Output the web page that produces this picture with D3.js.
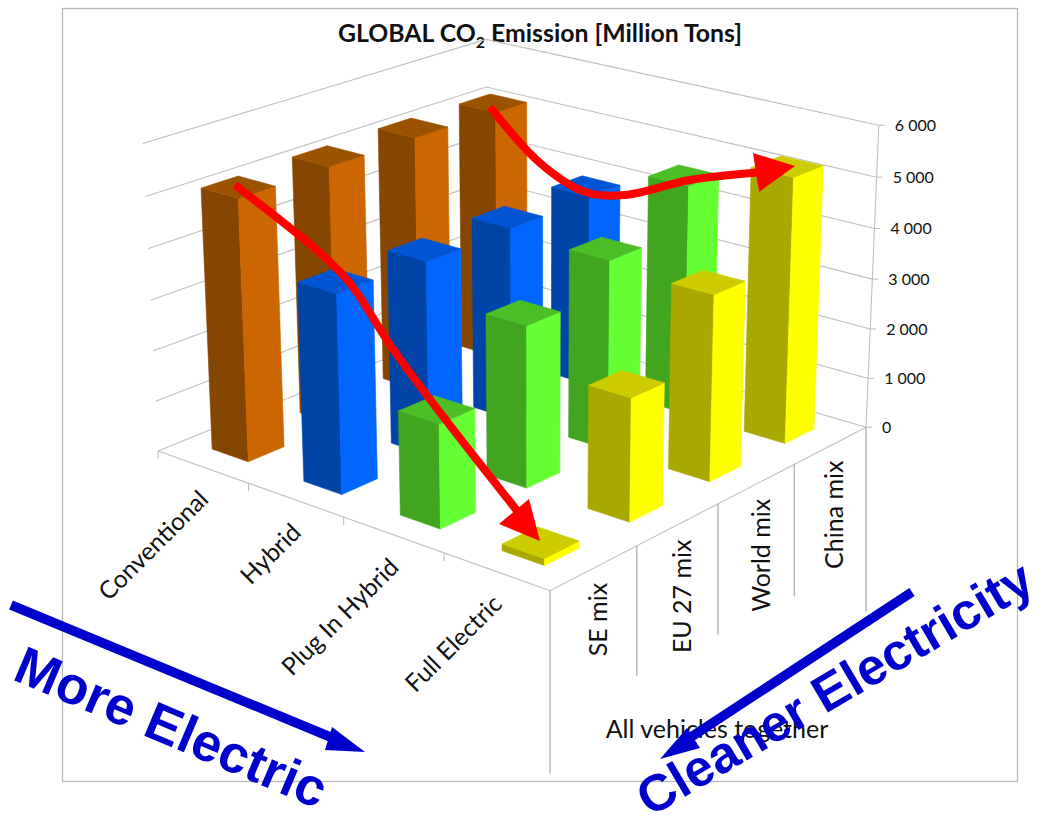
<!DOCTYPE html>
<html>
<head>
<meta charset="utf-8">
<script src="https://cdn.jsdelivr.net/npm/d3@7"></script>
<style>
  html, body { margin: 0; padding: 0; background: #fff; }
  svg { display: block; }
  text { font-family: Lato, "Open Sans", sans-serif; fill: #111; }
</style>
</head>
<body>
<svg id="chart" width="1042" height="827"></svg>
<script>
const vehicles = ["Conventional", "Hybrid", "Plug In Hybrid", "Full Electric"];
const mixes = ["SE mix", "EU 27 mix", "World mix", "China mix"];
const conventional = [5130, 5160, 5170, 5140];
const hybrid = [3860, 3830, 3860, 3900];
const plugIn = [2000, 3150, 3750, 4600];
const fullElectric = [130, 2370, 3630, 5250];
const valueTicks = [0, 1000, 2000, 3000, 4000, 5000, 6000];

const seriesByVehicle = [conventional, hybrid, plugIn, fullElectric];
const faceColors = [
  { left: "#844600", right: "#CC6600", top: "#9C5300" },
  { left: "#0044A8", right: "#0066FF", top: "#0055D4" },
  { left: "#42A51F", right: "#66FF33", top: "#4DBF26" },
  { left: "#A8A800", right: "#FFFF00", top: "#CCCC00" }
];

// Scales work in unit-cube coordinates; the camera below takes them to the screen.
const aScale = d3.scaleBand(vehicles, [0, 1]).paddingInner(0.6).paddingOuter(0.3);
const bScale = d3.scaleBand(mixes, [0, 1]).paddingInner(0.6).paddingOuter(0.3);
const hScale = d3.scaleLinear([0, 6000], [0, 1]);

// Camera calibration: cube corners paired with where they land on the page.
const cameraAnchors = [
  [0, 0, 0, 157, 452], [1, 0, 0, 550, 590], [1, 1, 0, 865, 428], [0, 1, 0, 490, 316],
  [0, 0, 1, 144, 143], [0, 1, 1, 484, 40], [1, 1, 1, 880, 125]
];

function solveCamera(anchors) {
  const rows = [], rhs = [];
  for (const [a, b, h, x, y] of anchors) {
    const u = x / 1000, v = y / 1000;
    rows.push([a, b, h, 1, 0, 0, 0, 0, -u * a, -u * b, -u * h]); rhs.push(u);
    rows.push([0, 0, 0, 0, a, b, h, 1, -v * a, -v * b, -v * h]); rhs.push(v);
  }
  const n = 11;
  const M = d3.range(n).map(i => d3.range(n + 1).map(j =>
    d3.sum(rows, (r, k) => r[i] * (j < n ? r[j] : rhs[k]))));
  for (let c = 0; c < n; c++) {
    const p = d3.greatest(d3.range(c, n), i => Math.abs(M[i][c]));
    [M[c], M[p]] = [M[p], M[c]];
    for (let i = 0; i < n; i++) {
      if (i === c) continue;
      const f = M[i][c] / M[c][c];
      for (let j = c; j <= n; j++) M[i][j] -= f * M[c][j];
    }
  }
  return d3.range(n).map(i => M[i][n] / M[i][i]);
}

const cam = solveCamera(cameraAnchors);
function project(a, b, h) {
  const w = cam[8] * a + cam[9] * b + cam[10] * h + 1;
  return [
    1000 * (cam[0] * a + cam[1] * b + cam[2] * h + cam[3]) / w,
    1000 * (cam[4] * a + cam[5] * b + cam[6] * h + cam[7]) / w
  ];
}

const svg = d3.select("#chart");
const gridColor = "#c0c0c0";
const polyline = d3.line();

// Outer chart frame
svg.append("rect").attr("x", 62.5).attr("y", 8.5).attr("width", 955).attr("height", 773)
  .attr("fill", "#fff").attr("stroke", "#b8b8b8").attr("stroke-width", 1.3);

// Title with subscript
const title = svg.append("text").attr("x", 540).attr("y", 42).attr("text-anchor", "middle")
  .attr("font-size", 24.8).attr("font-weight", 700);
title.append("tspan").text("GLOBAL CO");
title.append("tspan").attr("font-size", 16).attr("dy", 6).text("2");
title.append("tspan").attr("dy", -6).text(" Emission [Million Tons]");

// Back walls: one gridline per value tick
const grid = svg.append("g").attr("fill", "none").attr("stroke", gridColor).attr("stroke-width", 1.1);
valueTicks.forEach(v => {
  const h = hScale(v);
  grid.append("path").attr("d", polyline([project(0, 0, h), project(0, 1, h), project(1, 1, h)]));
});
grid.append("path").attr("d", polyline([project(1, 1, 0), project(1, 1, 1)]));
// Floor edges
grid.append("path").attr("d", polyline([project(0, 0, 0), project(1, 0, 0), project(1, 1, 0)]));

// Value axis ticks and labels
const fmt = d3.formatLocale({ decimal: ".", thousands: " ", grouping: [3], currency: ["", ""] }).format(",d");
valueTicks.forEach(v => {
  const [x, y] = project(1, 1, hScale(v));
  grid.append("path").attr("d", polyline([[x, y], [x + 6, y]]));
  svg.append("text").attr("x", x + 16).attr("y", y + 6).attr("font-size", 16).text(fmt(v));
});

// Vehicle axis ticks and slanted labels
d3.range(5).forEach(i => {
  const [x, y] = project(i / 4, 0, 0);
  if (i < 4) grid.append("path").attr("d", polyline([[x, y], [x, y + 8]]));
});
vehicles.forEach(name => {
  const [x, y] = project(aScale(name) + aScale.bandwidth() / 2, 0, 0);
  svg.append("text").attr("text-anchor", "end").attr("font-size", 24.5)
    .attr("transform", `translate(${x + 1},${y + 28}) rotate(-45)`)
    .attr("dy", "0.35em").text(name);
});

// Mix axis: separators, upright labels and the shared group label
const separatorDrop = [183, 130, 131, 132, 184];
d3.range(5).forEach(i => {
  const [x, y] = project(1, i / 4, 0);
  grid.append("path").attr("d", polyline([[x, y], [x, y + separatorDrop[i]]]))
    .attr("stroke", "#b4b4b4").attr("stroke-width", 1.4);
});
mixes.forEach(name => {
  const [x, y] = project(1, bScale(name) + bScale.bandwidth() / 2, 0);
  svg.append("text").attr("text-anchor", "end").attr("font-size", 25)
    .attr("transform", `translate(${x + 4},${y + 15}) rotate(-90)`)
    .attr("dy", "0.35em").text(name);
});
svg.append("text").attr("x", 717).attr("y", 738).attr("text-anchor", "middle")
  .attr("font-size", 25).text("All vehicles together");

// Bars, painted from the far corner of the floor toward the near corner
const cells = vehicles.flatMap((vehicle, i) => mixes.map((mix, j) => ({
  vehicle, mix, value: seriesByVehicle[i][j], colors: faceColors[i], order: i - j
}))).sort((p, q) => d3.ascending(p.order, q.order));

const bars = svg.append("g").attr("stroke-width", 0.6).selectAll("g").data(cells).join("g");
const face = (d, corners) => polyline(corners(d).map(c => project(...c))) + "Z";
const extents = d => {
  const a0 = aScale(d.vehicle), a1 = a0 + aScale.bandwidth();
  const b0 = bScale(d.mix), b1 = b0 + bScale.bandwidth();
  return { a0, a1, b0, b1, h: hScale(d.value) };
};
bars.append("path").attr("fill", d => d.colors.left).attr("stroke", d => d.colors.left).attr("d", d => face(d, d => {
  const e = extents(d);
  return [[e.a0, e.b0, 0], [e.a1, e.b0, 0], [e.a1, e.b0, e.h], [e.a0, e.b0, e.h]];
}));
bars.append("path").attr("fill", d => d.colors.right).attr("stroke", d => d.colors.right).attr("d", d => face(d, d => {
  const e = extents(d);
  return [[e.a1, e.b0, 0], [e.a1, e.b1, 0], [e.a1, e.b1, e.h], [e.a1, e.b0, e.h]];
}));
bars.append("path").attr("fill", d => d.colors.top).attr("stroke", d => d.colors.top).attr("d", d => face(d, d => {
  const e = extents(d);
  return [[e.a0, e.b0, e.h], [e.a1, e.b0, e.h], [e.a1, e.b1, e.h], [e.a0, e.b1, e.h]];
}));

// Red trend arrows
const trendArrows = [
  { path: [[235, 185], [340, 272], [395, 352], [526, 522]], shape: d3.curveNatural,
    head: [[540, 541], [529, 499], [499, 524]] },
  { path: [[490, 107], [540, 163], [585, 192], [625, 195], [690, 180], [765, 172]], shape: d3.curveCatmullRom,
    head: [[795, 166], [753, 153], [759, 192]] }
];
const trends = svg.append("g");
trendArrows.forEach(t => {
  trends.append("path").attr("d", d3.line().curve(t.shape)(t.path)).attr("fill", "none")
    .attr("stroke", "#FF0000").attr("stroke-width", 8);
  trends.append("path").attr("d", polyline(t.head) + "Z").attr("fill", "#FF0000");
});

// Blue direction arrows and their captions
const dirColor = "#0000CC";
const directions = [
  { from: [11, 605], to: [340, 741], head: [[365, 752], [332, 727], [325, 750]] },
  { from: [912, 592], to: [685, 741], head: [[660, 759], [687, 728], [700, 748]] }
];
directions.forEach(d => {
  svg.append("path").attr("d", polyline([d.from, d.to])).attr("stroke", dirColor)
    .attr("stroke-width", 9.5).attr("fill", "none");
  svg.append("path").attr("d", polyline(d.head) + "Z").attr("fill", dirColor);
});
const captions = [
  { text: "More Electric", x: 11, y: 679, angle: 23, size: 53 },
  { text: "Cleaner Electricity", x: 650, y: 817.5, angle: -30.5, size: 51.5 }
];
captions.forEach(c => {
  svg.append("text").attr("transform", `translate(${c.x},${c.y}) rotate(${c.angle})`)
    .attr("font-size", c.size).attr("font-weight", 700)
    .style("font-family", "'Liberation Sans', Arial, sans-serif").style("fill", dirColor)
    .text(c.text);
});
</script>
</body>
</html>
